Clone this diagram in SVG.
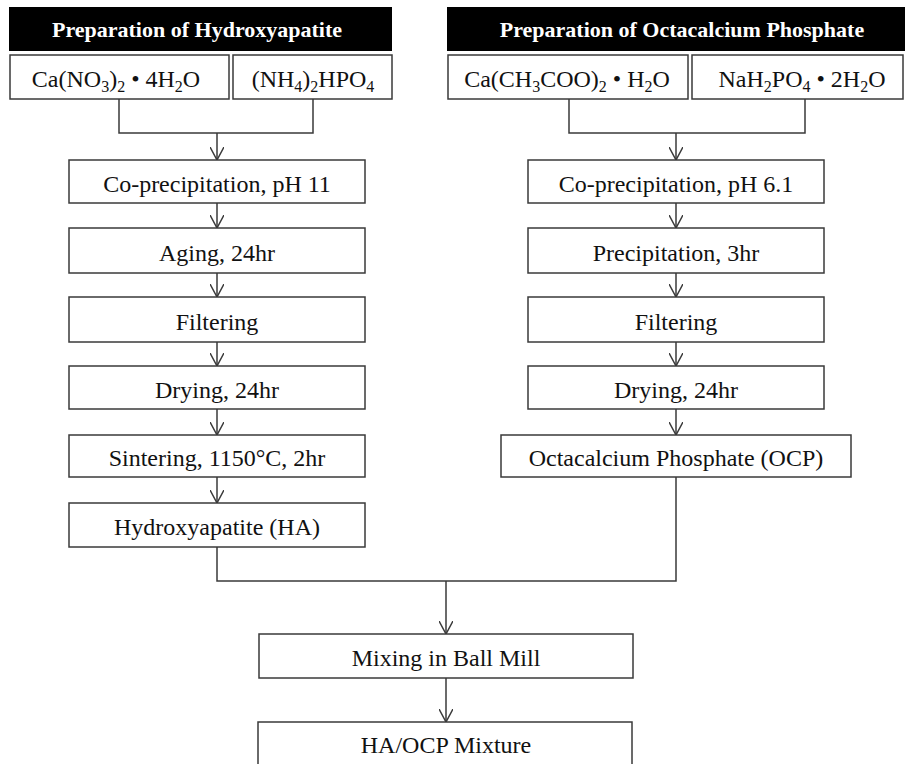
<svg xmlns="http://www.w3.org/2000/svg" width="905" height="764" viewBox="0 0 905 764">
<style>
.bg{fill:#ffffff}
.box{fill:#ffffff;stroke:#3a3a3a;stroke-width:1.5}
.hdr{fill:#000000}
.t{font-family:"Liberation Serif","Times New Roman",serif;font-size:24px;fill:#111111;text-anchor:middle}
.h{font-family:"Liberation Serif","Times New Roman",serif;font-size:22px;font-weight:bold;fill:#ffffff;text-anchor:middle}
.s{font-size:16px}
.conn{fill:none;stroke:#3a3a3a;stroke-width:1.5}
.arr{marker-end:url(#ah)}
</style>
<defs>
<marker id="ah" viewBox="0 0 14 14" refX="13" refY="7" markerWidth="14" markerHeight="14" markerUnits="userSpaceOnUse" orient="auto">
<path d="M0,0 L13,7 L0,14" fill="none" stroke="#3a3a3a" stroke-width="1.5"/>
</marker>
</defs>
<rect class="bg" x="0" y="0" width="905" height="764"/>

<g id="connectors">
<polyline class="conn" points="119,99 119,133 313,133 313,99"/>
<line class="conn arr" x1="217" y1="133" x2="217" y2="160"/>
<polyline class="conn" points="569,99 569,133 805,133 805,99"/>
<line class="conn arr" x1="676" y1="133" x2="676" y2="160"/>
<line class="conn arr" x1="217" y1="203" x2="217" y2="228"/>
<line class="conn arr" x1="217" y1="273" x2="217" y2="297"/>
<line class="conn arr" x1="217" y1="342" x2="217" y2="366"/>
<line class="conn arr" x1="217" y1="409" x2="217" y2="435"/>
<line class="conn arr" x1="217" y1="477" x2="217" y2="503"/>
<line class="conn arr" x1="676" y1="203" x2="676" y2="228"/>
<line class="conn arr" x1="676" y1="273" x2="676" y2="297"/>
<line class="conn arr" x1="676" y1="342" x2="676" y2="366"/>
<line class="conn arr" x1="676" y1="409" x2="676" y2="435"/>
<polyline class="conn" points="217,547 217,581 676,581 676,477"/>
<line class="conn arr" x1="446" y1="581" x2="446" y2="634"/>
<line class="conn arr" x1="446" y1="678" x2="446" y2="722"/>
</g>

<g id="hdr-ha">
<rect class="hdr" x="9" y="7" width="383" height="44"/>
<text class="h" x="197" y="37">Preparation of Hydroxyapatite</text>
</g>
<g id="hdr-ocp">
<rect class="hdr" x="447" y="7" width="458" height="44"/>
<text class="h" x="682" y="37">Preparation of Octacalcium Phosphate</text>
</g>

<g id="chem-cano3">
<rect class="box" x="10" y="55" width="219" height="44"/>
<text class="t" x="116" y="87">Ca(NO<tspan class="s" dy="5">3</tspan><tspan dy="-5">)</tspan><tspan class="s" dy="5">2</tspan><tspan dy="-5"> • 4H</tspan><tspan class="s" dy="5">2</tspan><tspan dy="-5">O</tspan></text>
</g>
<g id="chem-nh4">
<rect class="box" x="233" y="55" width="159" height="44"/>
<text class="t" x="313" y="87">(NH<tspan class="s" dy="5">4</tspan><tspan dy="-5">)</tspan><tspan class="s" dy="5">2</tspan><tspan dy="-5">HPO</tspan><tspan class="s" dy="5">4</tspan></text>
</g>
<g id="chem-caac">
<rect class="box" x="448" y="55" width="240" height="44"/>
<text class="t" x="567" y="87">Ca(CH<tspan class="s" dy="5">3</tspan><tspan dy="-5">COO)</tspan><tspan class="s" dy="5">2</tspan><tspan dy="-5"> • H</tspan><tspan class="s" dy="5">2</tspan><tspan dy="-5">O</tspan></text>
</g>
<g id="chem-nah2po4">
<rect class="box" x="692" y="55" width="211" height="44"/>
<text class="t" x="802" y="87">NaH<tspan class="s" dy="5">2</tspan><tspan dy="-5">PO</tspan><tspan class="s" dy="5">4</tspan><tspan dy="-5"> • 2H</tspan><tspan class="s" dy="5">2</tspan><tspan dy="-5">O</tspan></text>
</g>

<g id="ha-coprec">
<rect class="box" x="69" y="160" width="296" height="43"/>
<text class="t" x="217" y="191.5">Co-precipitation, pH 11</text>
</g>
<g id="ha-aging">
<rect class="box" x="69" y="228" width="296" height="45"/>
<text class="t" x="217" y="260.5">Aging, 24hr</text>
</g>
<g id="ha-filter">
<rect class="box" x="69" y="297" width="296" height="45"/>
<text class="t" x="217" y="329.5">Filtering</text>
</g>
<g id="ha-dry">
<rect class="box" x="69" y="366" width="296" height="43"/>
<text class="t" x="217" y="397.5">Drying, 24hr</text>
</g>
<g id="ha-sinter">
<rect class="box" x="69" y="435" width="296" height="42"/>
<text class="t" x="217" y="466">Sintering, 1150°C, 2hr</text>
</g>
<g id="ha-product">
<rect class="box" x="69" y="503" width="296" height="44"/>
<text class="t" x="217" y="535">Hydroxyapatite (HA)</text>
</g>

<g id="ocp-coprec">
<rect class="box" x="528" y="160" width="296" height="43"/>
<text class="t" x="676" y="191.5">Co-precipitation, pH 6.1</text>
</g>
<g id="ocp-precip">
<rect class="box" x="528" y="228" width="296" height="45"/>
<text class="t" x="676" y="260.5">Precipitation, 3hr</text>
</g>
<g id="ocp-filter">
<rect class="box" x="528" y="297" width="296" height="45"/>
<text class="t" x="676" y="329.5">Filtering</text>
</g>
<g id="ocp-dry">
<rect class="box" x="528" y="366" width="296" height="43"/>
<text class="t" x="676" y="397.5">Drying, 24hr</text>
</g>
<g id="ocp-product">
<rect class="box" x="501" y="435" width="350" height="42"/>
<text class="t" x="676" y="466">Octacalcium Phosphate (OCP)</text>
</g>

<g id="mixing">
<rect class="box" x="259" y="634" width="374" height="44"/>
<text class="t" x="446" y="666">Mixing in Ball Mill</text>
</g>
<g id="mixture">
<rect class="box" x="258" y="722" width="374" height="60"/>
<text class="t" x="446" y="753">HA/OCP Mixture</text>
</g>
</svg>
